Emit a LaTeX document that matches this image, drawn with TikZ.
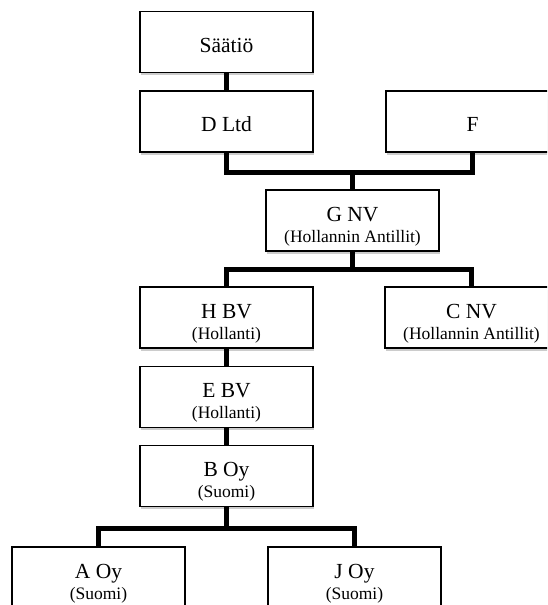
\documentclass[tikz,border=0pt]{standalone}
\usepackage{fontspec}
\setmainfont{Liberation Serif}
\usetikzlibrary{positioning,shadows}
\newcommand\maa[1]{{\fontsize{17.5}{21}\selectfont #1}}

\begin{document}
\begin{tikzpicture}[x=1pt,y=-1pt,
  box/.style={draw,line width=1.2pt,fill=white,minimum width=173pt,minimum height=61pt,
    inner sep=2pt,align=center,font=\fontsize{21.5}{21}\selectfont,
    drop shadow={opacity=0.4,shadow xshift=0.5pt,shadow yshift=-2.5pt}},
  one/.style={text height=20pt,text depth=0pt},
  two/.style={text height=43pt,text depth=0pt},
  conn/.style={line width=4.8pt}]
  \useasboundingbox (0,0) rectangle (547,605);
  \clip (0,0) rectangle (547,605);
  % owners
  \node[box,one] (saatio) at (226.5,42) {Säätiö};
  \node[box,one] (dltd) at (226.5,121.5) {D Ltd};
  \node[box,one] (f) at (472.5,121.5) {F};
  \node[box,two] (gnv) at (352.5,220.5) {G NV\\\maa{(Hollannin Antillit)}};
  % subsidiaries
  \node[box,two] (hbv) at (226.5,317.5) {H BV\\\maa{(Hollanti)}};
  \node[box,two] (cnv) at (471.5,317.5) {C NV\\\maa{(Hollannin Antillit)}};
  \node[box,two] (ebv) at (226.5,397) {E BV\\\maa{(Hollanti)}};
  \node[box,two] (boy) at (226.5,476) {B Oy\\\maa{(Suomi)}};
  \node[box,two] (aoy) at (98.5,577.5) {A Oy\\\maa{(Suomi)}};
  \node[box,two] (joy) at (354.5,577.5) {J Oy\\\maa{(Suomi)}};
  % connectors
  \draw[conn] (saatio) -- (dltd);
  \draw[conn] (dltd.south) -- ++(0,20) -| (gnv.north);
  \draw[conn] (f.south) -- ++(0,20) -| (gnv.north);
  \draw[conn] (gnv.south) -- ++(0,18) -| (hbv.north);
  \draw[conn] (gnv.south) -- ++(0,18) -| (cnv.north);
  \draw[conn] (hbv) -- (ebv);
  \draw[conn] (ebv) -- (boy);
  \draw[conn] (boy.south) -- ++(0,21) -| (aoy.north);
  \draw[conn] (boy.south) -- ++(0,21) -| (joy.north);
\end{tikzpicture}
\end{document}
